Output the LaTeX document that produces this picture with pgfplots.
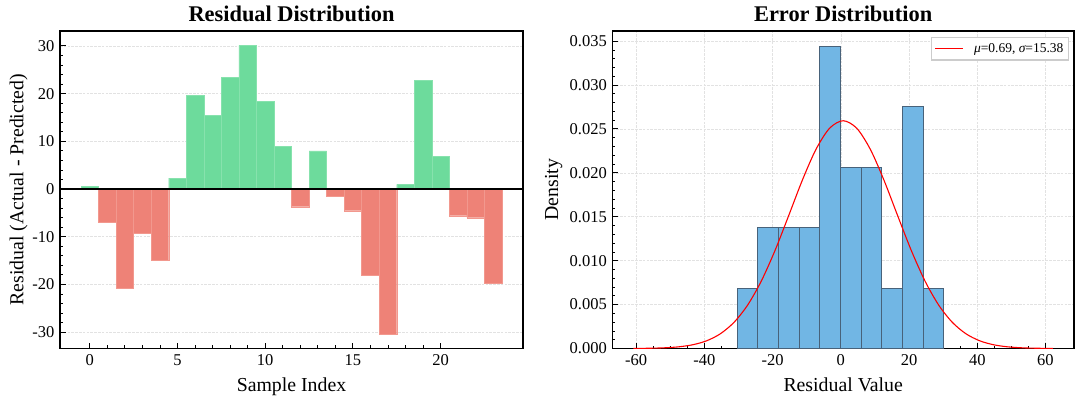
\documentclass[border=0pt]{standalone}
\usepackage{fontspec}
\setmainfont{Liberation Serif}
\usepackage{pgfplots}
\pgfplotsset{compat=1.18}
\definecolor{posgreen}{RGB}{109,219,156}
\definecolor{posedge}{RGB}{135,226,173}
\definecolor{negred}{RGB}{238,130,119}
\definecolor{negedge}{RGB}{242,152,142}
\definecolor{histblue}{RGB}{113,182,228}
\definecolor{histedge}{RGB}{72,98,122}
\definecolor{gridgray}{RGB}{226,226,226}
\definecolor{legendgray}{RGB}{204,204,204}
\definecolor{curvered}{RGB}{255,0,0}
\pgfplotsset{
  mystyle/.style={
    scale only axis,
    height=317.5bp,
    anchor=south west,
    tick align=inside,
    tick pos=left,
    axis line style={line width=1.3bp, black},
    major tick length=5.5bp,
    minor tick length=3bp,
    major tick style={line width=1bp, black},
    minor tick style={line width=0.8bp, black},
    /pgf/number format/assume math mode=true,
    tick label style={font=\fontsize{16.5bp}{19bp}\selectfont},
    xticklabel style={yshift=-2.8bp},
    yticklabel style={xshift=-2bp},
    label style={font=\fontsize{19.8bp}{23bp}\selectfont},
    xlabel style={at={(axis description cs:0.5,-0.136)}, anchor=base},
    title style={font=\bfseries\fontsize{22.4bp}{26bp}\selectfont, at={(axis description cs:0.5,1)}, anchor=base, yshift=4bp},
    major grid style={gridgray, line width=0.6bp, dash pattern=on 2.6bp off 1.2bp},
  }
}
\begin{document}
\begin{tikzpicture}
\path[use as bounding box] (0bp,0bp) rectangle (1080bp,402bp);
% ---------------- left: residuals per sample ----------------
\begin{axis}[mystyle,
  at={(60bp,53.5bp)},
  width=463bp,
  xmin=-1.7, xmax=24.7,
  ymin=-33.43, ymax=33.13,
  xtick={0,5,10,15,20},
  ytick={-30,-20,-10,0,10,20,30},
  minor x tick num=4,
  minor y tick num=4,
  ymajorgrids=true,
  title={Residual Distribution},
  xlabel={Sample Index},
  ylabel={Residual (Actual - Predicted)},
  ylabel style={at={(axis description cs:-0.0793,0.5)}, anchor=base},
]
\addplot[ybar, bar width=1, bar shift=0pt, fill=posgreen, draw=posedge, line width=0.4bp]
  coordinates {(0,0.63) (5,2.31) (6,19.68) (7,15.4) (8,23.46) (9,30.1) (10,18.35) (11,8.96) (13,7.98) (18,0.98) (19,22.76) (20,6.86)};
\addplot[ybar, bar width=1, bar shift=0pt, fill=negred, draw=negedge, line width=0.4bp]
  coordinates {(1,-6.86) (2,-20.8) (3,-9.17) (4,-14.85) (12,-3.71) (14,-1.47) (15,-4.55) (16,-18.0) (17,-30.4) (21,-5.6) (22,-6.02) (23,-19.8)};
\addplot[black, line width=1.1bp] coordinates {(-1.7,0) (24.7,0)};
\end{axis}
% ---------------- right: histogram of residuals ----------------
\begin{axis}[mystyle,
  at={(612.3bp,53.5bp)},
  width=461.7bp,
  xmin=-66.98, xmax=68.36,
  ymin=0, ymax=0.03616,
  xtick={-60,-40,-20,0,20,40,60},
  ytick={0,0.005,0.010,0.015,0.020,0.025,0.030,0.035},
  minor x tick num=3,
  minor y tick num=4,
  yticklabel style={/pgf/number format/.cd, fixed, fixed zerofill, precision=3},
  scaled y ticks=false,
  xmajorgrids=true, ymajorgrids=true,
  title={Error Distribution},
  xlabel={Residual Value},
  ylabel={Density},
  ylabel style={at={(axis description cs:-0.1176,0.5)}, anchor=base},
  legend style={at={(axis description cs:1,1)}, anchor=north east, xshift=-5bp, yshift=-6bp,
    draw=legendgray, line width=1.2bp,
    font=\fontsize{13.5bp}{15bp}\selectfont,
    inner xsep=3bp, inner ysep=4bp},
  legend image code/.code={%
    \path[draw=none, fill=none] (0bp,-6bp) rectangle (37bp,6bp);
    \draw[draw=curvered, line width=1.3bp] (0bp,0bp) -- (28bp,0bp);},
]
\addplot[ybar interval, fill=histblue, draw=histedge, line width=0.7bp, forget plot]
  coordinates {(-30.4,0.006887) (-24.35,0.013774) (-18.3,0.013774) (-12.25,0.013774) (-6.2,0.034435) (-0.15,0.020661) (5.9,0.020661) (11.95,0.006887) (18.0,0.027548) (24.05,0.006887) (30.1,0.006887)};
\addplot[curvered, line width=1.1bp, smooth]
  coordinates {(-60.81,0.0000087) (-59.31,0.0000129) (-55.31,0.0000343) (-51.31,0.0000855) (-47.31,0.000199) (-43.31,0.000433) (-39.31,0.000881) (-35.31,0.001676) (-31.31,0.002978) (-27.31,0.004946) (-23.31,0.007678) (-19.31,0.011137) (-15.31,0.015100) (-11.31,0.019133) (-7.31,0.022658) (-3.31,0.025077) (0.69,0.025940) (4.69,0.025077) (8.69,0.022658) (12.69,0.019133) (16.69,0.015100) (20.69,0.011137) (24.69,0.007678) (28.69,0.004946) (32.69,0.002978) (36.69,0.001676) (40.69,0.000881) (44.69,0.000433) (48.69,0.000199) (52.69,0.0000855) (56.69,0.0000343) (60.69,0.0000129) (62.19,0.0000087)};
\addlegendentry{{\itshape μ}=0.69, {\itshape σ}=15.38}
\end{axis}
\end{tikzpicture}
\end{document}
